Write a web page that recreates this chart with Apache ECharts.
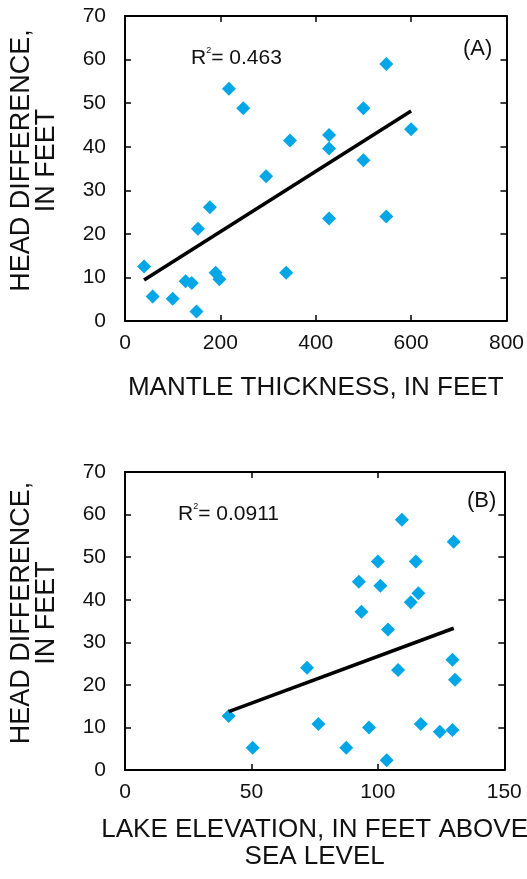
<!DOCTYPE html>
<html>
<head>
<meta charset="utf-8">
<style>
  html, body { margin: 0; padding: 0; background: #fff; }
  #main { width: 527px; height: 879px; }
</style>
<script src="https://cdn.jsdelivr.net/npm/echarts@6/dist/echarts.min.js"></script>
</head>
<body>
<div id="main"></div>
<script>
// panel A: mantle thickness vs head difference
var thickness = [40, 58, 100, 127, 140, 150, 153, 178, 190, 198, 218, 248, 296, 338, 346, 428, 428, 428, 500, 500, 548, 548, 600];
var headA = [12.5, 5.6, 5.1, 9.1, 8.7, 2.2, 21.2, 26.1, 11.1, 9.6, 53.3, 48.8, 33.2, 11.1, 41.4, 42.7, 39.6, 23.5, 48.8, 36.9, 59, 24, 44];
var trendAx = [40, 600];
var trendAy = [9.4, 48.2];

// panel B: lake elevation vs head difference
var elevation = [41, 50.5, 72, 76.5, 87.5, 92.5, 93.5, 96.5, 100, 101, 103.5, 104, 108, 109.5, 113, 115, 116, 117, 124.5, 129.5, 130, 129.5, 130.5];
var headB = [12.7, 5.2, 24, 10.8, 5.2, 44.2, 37.2, 10, 49, 43.3, 2.3, 33, 23.5, 58.8, 39.4, 49, 41.5, 10.8, 9, 25.9, 53.6, 9.4, 21.2];
var trendBx = [41, 130];
var trendBy = [13.7, 33.3];

var FONT = 'Liberation Sans';
var myChart = echarts.init(document.getElementById('main'));

function pairs(xs, ys) {
    return xs.map(function (x, i) { return [x, ys[i]]; });
}

function frameAxis(grid, pos, extra) {
    var ax = {
        gridIndex: grid,
        position: pos,
        type: 'value',
        axisLine: { show: true, onZero: false, lineStyle: { color: '#000', width: 2 } },
        axisTick: { show: true, inside: true, length: 6, lineStyle: { color: '#000', width: 1.5 } },
        axisLabel: { show: false },
        splitLine: { show: false }
    };
    for (var k in extra) ax[k] = extra[k];
    return ax;
}

var tickLabel = { show: true, color: '#111', fontFamily: FONT, fontSize: 21 };
var nameStyle = { color: '#111', fontFamily: FONT, fontSize: 26, lineHeight: 26 };
var yNameStyle = { color: '#111', fontFamily: FONT, fontSize: 27, lineHeight: 25, padding: [0, 0, 0, 16] };
var r2Rich = {
    r: { fontSize: 21, fontWeight: 'normal', color: '#111', fontFamily: FONT, lineHeight: 24 },
    s: { fontSize: 9, fontWeight: 'normal', color: '#111', fontFamily: FONT, verticalAlign: 'top', lineHeight: 14 }
};

var option = {
    animation: false,
    textStyle: { fontFamily: FONT },
    grid: [
        { left: 121, top: 16, width: 386, height: 305 },
        { left: 119, top: 472, width: 386, height: 298 }
    ],
    title: [
        { text: '{r|R}{s|2}{r|= 0.463}', left: 186, top: 41, textStyle: { fontWeight: 'normal', rich: r2Rich } },
        { text: '(A)', left: 458, top: 33, textStyle: { fontSize: 22, fontWeight: 'normal', color: '#111', fontFamily: FONT } },
        { text: '{r|R}{s|2}{r|= 0.0911}', left: 173, top: 497, textStyle: { fontWeight: 'normal', rich: r2Rich } },
        { text: '(B)', left: 462, top: 485, textStyle: { fontSize: 22, fontWeight: 'normal', color: '#111', fontFamily: FONT } }
    ],
    xAxis: [
        frameAxis(0, 'bottom', { min: 0, max: 800, interval: 200, axisLabel: Object.assign({ margin: 12 }, tickLabel),
            name: 'MANTLE THICKNESS, IN FEET', nameLocation: 'middle', nameGap: 54, nameTextStyle: nameStyle }),
        frameAxis(0, 'top', { min: 0, max: 800, interval: 200 }),
        frameAxis(1, 'bottom', { min: 0, max: 150, interval: 50, axisLabel: Object.assign({ margin: 12 }, tickLabel),
            name: 'LAKE ELEVATION, IN FEET ABOVE\nSEA LEVEL', nameLocation: 'middle', nameGap: 46,
            nameTextStyle: Object.assign({}, nameStyle, { lineHeight: 27 }) }),
        frameAxis(1, 'top', { min: 0, max: 150, interval: 50 })
    ],
    yAxis: [
        frameAxis(0, 'left', { min: 0, max: 70, interval: 10, axisLabel: Object.assign({ margin: 19 }, tickLabel),
            name: 'HEAD DIFFERENCE,\nIN FEET', nameLocation: 'middle', nameRotate: 90, nameGap: 66, nameTextStyle: yNameStyle }),
        frameAxis(0, 'right', { min: 0, max: 70, interval: 10 }),
        frameAxis(1, 'left', { min: 0, max: 70, interval: 10, axisLabel: Object.assign({ margin: 19 }, tickLabel),
            name: 'HEAD DIFFERENCE,\nIN FEET', nameLocation: 'middle', nameRotate: 90, nameGap: 66, nameTextStyle: yNameStyle }),
        frameAxis(1, 'right', { min: 0, max: 70, interval: 10 })
    ],
    series: [
        {
            type: 'line', xAxisIndex: 0, yAxisIndex: 0,
            data: pairs(trendAx, trendAy), symbol: 'none',
            lineStyle: { color: '#000', width: 3.5 }, z: 3
        },
        {
            type: 'scatter', xAxisIndex: 0, yAxisIndex: 0,
            data: pairs(thickness, headA), symbol: 'diamond', symbolSize: 14,
            itemStyle: { color: '#00a6e6', opacity: 1 }, z: 2
        },
        {
            type: 'line', xAxisIndex: 2, yAxisIndex: 2,
            data: pairs(trendBx, trendBy), symbol: 'none',
            lineStyle: { color: '#000', width: 3.5 }, z: 3
        },
        {
            type: 'scatter', xAxisIndex: 2, yAxisIndex: 2,
            data: pairs(elevation, headB), symbol: 'diamond', symbolSize: 14,
            itemStyle: { color: '#00a6e6', opacity: 1 }, z: 2
        }
    ]
};
myChart.setOption(option);

window.addEventListener('resize', function () {
    myChart.resize();
});
</script>
</body>
</html>
